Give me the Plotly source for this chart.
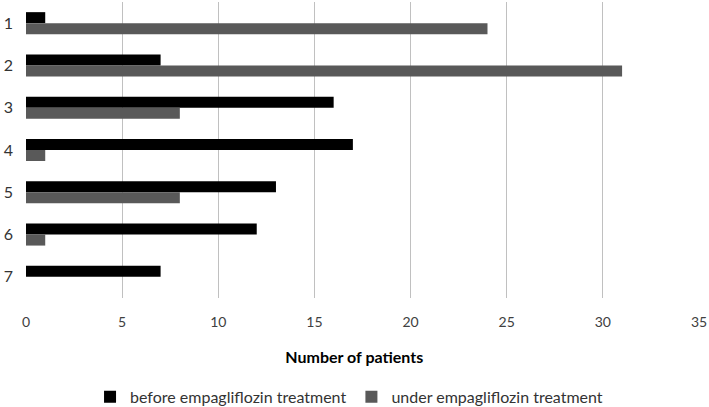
import plotly.graph_objects as go

categories = ["1", "2", "3", "4", "5", "6", "7"]
before_vals = [1, 7, 16, 17, 13, 12, 7]
under_vals = [24, 31, 8, 1, 8, 1, 0]
x_ticks = [0, 5, 10, 15, 20, 25, 30, 35]

fig = go.Figure()
fig.add_trace(go.Bar(y=categories, x=before_vals, orientation="h",
                     name="before empagliflozin treatment",
                     marker=dict(color="#000000", line=dict(width=0))))
fig.add_trace(go.Bar(y=categories, x=under_vals, orientation="h",
                     name="under empagliflozin treatment",
                     marker=dict(color="#595959", line=dict(width=0))))

fig.update_layout(
    width=709, height=407,
    margin=dict(l=26, r=10, t=2, b=109),
    barmode="group", bargap=0.48, bargroupgap=0,
    plot_bgcolor="white", paper_bgcolor="white",
    font=dict(family="Lato, Open Sans, sans-serif", color="#404040"),
    xaxis=dict(range=[0, 35], tickvals=x_ticks, showgrid=True,
               gridcolor="#c0c0c0", gridwidth=1, zeroline=False,
               showline=False, tickfont=dict(size=14),
               ticklabelstandoff=14, automargin=False,
               title=dict(text="<b>Number of patients</b>&nbsp;&nbsp;&nbsp;&nbsp;",
                          font=dict(size=16, color="#000000"), standoff=22)),
    yaxis=dict(autorange="reversed", showgrid=False, zeroline=False,
               showline=False, tickfont=dict(size=16, color="#333333"),
               ticks="", ticklabelstandoff=12, automargin=False),
    legend=dict(orientation="h", x=0.48, xanchor="center",
                yref="container", y=0.025, yanchor="middle",
                font=dict(size=16, color="#333333"),
                traceorder="normal", itemwidth=30),
    showlegend=True,
)
fig.write_html("out.html", config={"displayModeBar": False},
               post_script="document.body.style.margin='0';")
